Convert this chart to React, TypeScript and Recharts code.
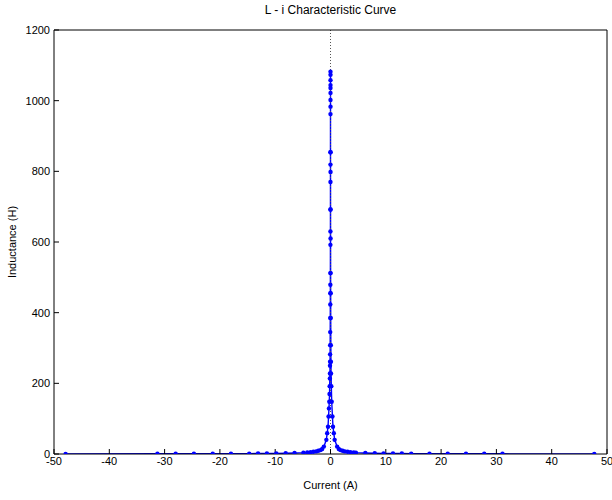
import {
  LineChart,
  Line,
  XAxis,
  YAxis,
  ReferenceLine,
} from "recharts";

// Current (A) — sweep from negative to positive saturation
const currentA: number[] = [
  -47.9, -31.3, -28, -24.7, -21.3, -18, -14.7, -13.1, -11.5, -9.8, -8.1, -6.5,
  -4.9, -4.2, -3.6, -3.1, -2.6, -2.2, -1.8, -1.5, -1.2, -0.75, -0.6, -0.45,
  -0.35, -0.28, -0.22, -0.18, -0.15, -0.12, -0.1, -0.09, -0.08, -0.07, -0.06,
  -0.05, -0.04, -0.035, -0.03, -0.025, -0.02, -0.015, -0.012, -0.009, -0.007,
  -0.005, -0.004, -0.003, -0.002, -0.001, -0.0005, 0,
  0.0005, 0.001, 0.0015, 0.002, 0.004, 0.006, 0.009, 0.013, 0.02, 0.03, 0.04,
  0.06, 0.08, 0.1, 0.15, 0.22, 0.35, 0.45, 0.6, 0.75, 1.2, 1.5, 1.8, 2.2, 2.6,
  3.1, 3.6, 4.2, 4.6, 6.3, 8, 9.6, 11.3, 12.9, 14.6, 17.9, 21.2, 24.5, 27.8,
  31.1, 47.7,
];

// Inductance (H)
const inductanceH: number[] = [
  0.3, 0.5, 0.6, 0.7, 0.8, 1.0, 1.2, 1.4, 1.6, 1.9, 2.3, 2.9,
  3.8, 4.5, 5.3, 6.2, 7.4, 9, 11, 14, 21, 40, 59, 77,
  106, 129, 148, 170, 192, 214, 228, 250, 261, 282, 308,
  345, 385, 423, 455, 479, 512, 592, 630, 692, 770,
  819, 854, 962, 1002, 1036, 1058, 1082,
  1073, 1044, 1022, 983, 854, 798, 692, 610, 512, 455, 385,
  308, 261, 228, 192, 148, 106, 77, 59, 40, 21, 14, 11, 9, 7.4,
  6.2, 5.3, 4.5, 3.8, 2.9, 2.3, 1.9, 1.6, 1.4, 1.2, 1.0, 0.8, 0.7, 0.6,
  0.5, 0.3,
];

const xTicks = [-50, -40, -30, -20, -10, 0, 10, 20, 30, 40, 50];
const yTicks = [0, 200, 400, 600, 800, 1000, 1200];

const data = currentA.map((i, k) => ({ i, L: inductanceH[k] }));

const FONT = '"Liberation Sans", Arial, Helvetica, sans-serif';
const tickStyle = { fontSize: 11, fill: "#000", fontFamily: FONT };

export default function App() {
  return (
    <div
      style={{
        position: "absolute",
        left: 0,
        top: 0,
        width: 612,
        height: 500,
        background: "#fff",
        fontFamily: FONT,
      }}
    >
      {/* Title */}
      <div
        style={{
          position: "absolute",
          top: 3,
          left: 54,
          width: 553,
          textAlign: "center",
          fontSize: 12,
          lineHeight: "14px",
          color: "#000",
        }}
      >
        L - i Characteristic Curve
      </div>

      <LineChart
        width={612}
        height={500}
        data={data}
        margin={{ top: 0, right: 0, bottom: 0, left: 0 }}
      >
        <XAxis
          dataKey="i"
          type="number"
          domain={[-50, 50]}
          ticks={xTicks}
          interval={0}
          allowDataOverflow
          height={46}
          tickSize={-5}
          tickMargin={8}
          tick={tickStyle}
          stroke="#000"
          axisLine={{ stroke: "#000" }}
          tickLine={{ stroke: "#000" }}
        />
        <XAxis
          xAxisId="top"
          orientation="top"
          type="number"
          domain={[-50, 50]}
          ticks={xTicks}
          interval={0}
          height={30}
          tickSize={-5}
          tick={false}
          axisLine={{ stroke: "#000" }}
          tickLine={{ stroke: "#000" }}
        />
        <YAxis
          type="number"
          domain={[0, 1200]}
          ticks={yTicks}
          interval={0}
          allowDataOverflow
          width={54}
          tickSize={-5}
          tickMargin={9}
          tick={tickStyle}
          axisLine={{ stroke: "#000" }}
          tickLine={{ stroke: "#000" }}
        />
        <YAxis
          yAxisId="right"
          orientation="right"
          type="number"
          domain={[0, 1200]}
          ticks={yTicks}
          interval={0}
          width={5}
          tickSize={-5}
          tick={false}
          axisLine={{ stroke: "#000" }}
          tickLine={{ stroke: "#000" }}
        />
        <Line
          type="linear"
          dataKey="L"
          stroke="#0000ff"
          strokeWidth={1.4}
          dot={{ r: 2.2, fill: "#0000ff", stroke: "#0000ff", strokeWidth: 0 }}
          activeDot={false}
          isAnimationActive={false}
        />
        <ReferenceLine
          x={0}
          stroke="#555"
          strokeWidth={1}
          strokeDasharray="1 2"
        />
      </LineChart>

      {/* Axis labels */}
      <div
        style={{
          position: "absolute",
          top: 479,
          left: 54,
          width: 553,
          textAlign: "center",
          fontSize: 11,
          lineHeight: "13px",
          color: "#000",
        }}
      >
        Current (A)
      </div>
      <div
        style={{
          position: "absolute",
          left: 12,
          top: 242,
          transform: "translate(-50%, -50%) rotate(-90deg)",
          whiteSpace: "nowrap",
          fontSize: 11,
          lineHeight: "13px",
          color: "#000",
        }}
      >
        Inductance (H)
      </div>
    </div>
  );
}
